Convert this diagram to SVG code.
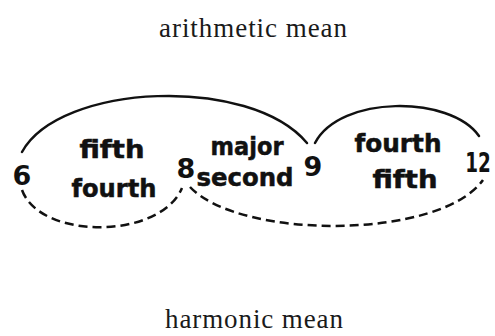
<svg xmlns="http://www.w3.org/2000/svg" width="495" height="336" viewBox="0 0 495 336">
<style>
.title{font-family:"Liberation Serif",serif;font-size:27px;fill:#1a1a1a;text-anchor:middle}
.lbl{font-family:"DejaVu Sans",sans-serif;font-weight:bold;font-size:24px;fill:#111;stroke:#111;stroke-width:0.5;text-anchor:middle}
.num{font-family:"DejaVu Sans",sans-serif;font-weight:bold;font-size:27px;fill:#111;text-anchor:middle}
.solid{fill:none;stroke:#111;stroke-width:2.5;stroke-linecap:round}
.dash{fill:none;stroke:#111;stroke-width:2.5;stroke-dasharray:9 5}
</style>
<rect width="495" height="336" fill="#fff"/>
<g id="titles">
<text class="title" x="253" y="37" textLength="188" lengthAdjust="spacing">arithmetic mean</text>
<text class="title" x="254" y="328" textLength="178" lengthAdjust="spacing">harmonic mean</text>
</g>
<g id="connectors">
<path class="solid" d="M22,152 C60,83 250,75 307,143"/>
<path class="solid" d="M315,143 C340,95 450,95 479,136"/>
<path class="dash" d="M22,190 C40,240 160,240 182,188"/>
<path class="dash" d="M190,187 C240,240 440,240 483,180"/>
</g>
<g id="n6"><text class="num" x="22" y="185">6</text></g>
<g id="n8"><text class="num" x="186" y="178">8</text></g>
<g id="n9"><text class="num" x="313" y="176">9</text></g>
<g id="n12"><text class="num" transform="translate(478,172) scale(0.68,1)" x="0" y="0">12</text></g>
<g id="l1">
<text class="lbl" x="112" y="158" textLength="65" lengthAdjust="spacingAndGlyphs">fifth</text>
<text class="lbl" x="114" y="197" textLength="85" lengthAdjust="spacingAndGlyphs">fourth</text>
</g>
<g id="l2">
<text class="lbl" x="247" y="155" textLength="73" lengthAdjust="spacingAndGlyphs">major</text>
<text class="lbl" x="245" y="186" textLength="97" lengthAdjust="spacingAndGlyphs">second</text>
</g>
<g id="l3">
<text class="lbl" x="398" y="152" textLength="87" lengthAdjust="spacingAndGlyphs">fourth</text>
<text class="lbl" x="405" y="188" textLength="65" lengthAdjust="spacingAndGlyphs">fifth</text>
</g>
</svg>
